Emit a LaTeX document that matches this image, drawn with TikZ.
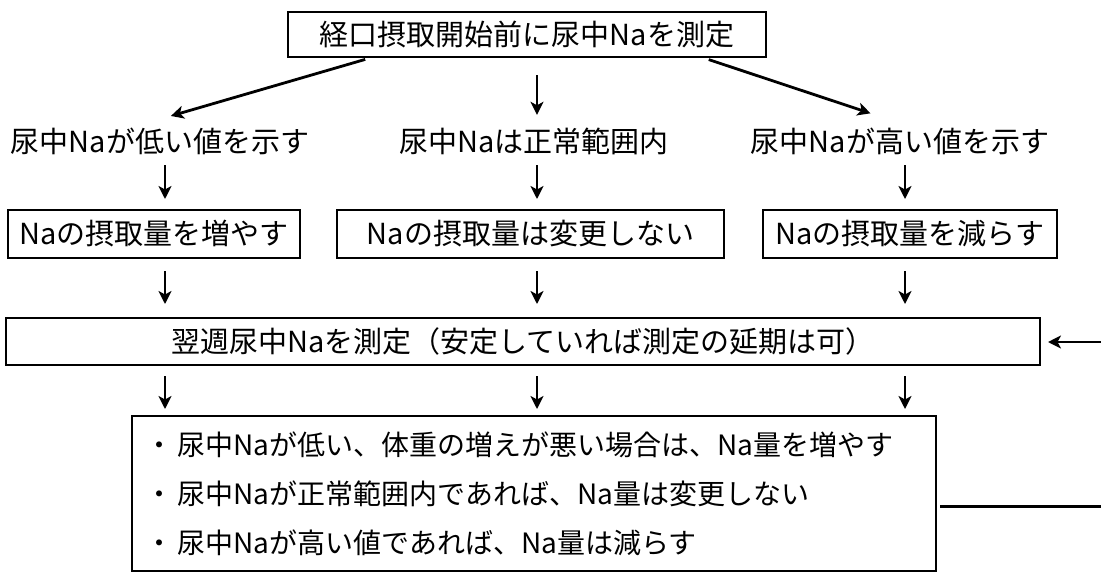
\documentclass[tikz,border=0pt]{standalone}
\usepackage{fontspec}
\setmainfont{Noto Sans CJK JP}
\usetikzlibrary{arrows.meta}
\begin{document}
\begin{tikzpicture}[x=1pt,y=-1pt,
                       box node/.style={draw,line width=2pt,inner sep=0pt,font=\fontsize{29}{34}\selectfont},
                       label node/.style={inner sep=0pt,minimum height=48pt,font=\fontsize{29}{34}\selectfont},
                       arr/.style={line width=2.8pt,-{Stealth[length=13pt,width=13pt,inset=3.5pt]}}
                      ]
  \useasboundingbox (0,0) rectangle (1101,574);
  \coordinate (cL) at (165,0);
  \coordinate (cM) at (537,0);
  \coordinate (cR) at (905,0);
  \coordinate (dLs) at (370,0);
  \coordinate (dLe) at (168,0);
  \coordinate (dRs) at (704,0);
  \coordinate (dRe) at (881,0);
  \coordinate (fbin) at (1101,342);
  \coordinate (fbout) at (1101,506);

  \node[box node,minimum width=478pt,minimum height=45pt] (start) at (527,34.5) {経口摂取開始前に尿中Naを測定};
  \node[label node] (low) at (160,141) {尿中Naが低い値を示す};
  \node[label node] (normal) at (534,141) {尿中Naは正常範囲内};
  \node[label node] (high) at (900,141) {尿中Naが高い値を示す};
  \node[box node,minimum width=292pt,minimum height=48pt] (inc) at (154,234) {Naの摂取量を増やす};
  \node[box node,minimum width=387pt,minimum height=48pt] (keep) at (530.5,234) {Naの摂取量は変更しない};
  \node[box node,minimum width=294pt,minimum height=48pt] (dec) at (910,234) {Naの摂取量を減らす};
  \node[box node,minimum width=1034pt,minimum height=47pt] (measure) at (523,341.5) {翌週尿中Naを測定（安定していれば測定の延期は可）};
  \node[box node,minimum width=804pt,minimum height=155pt,text width=778pt,align=left,
        font=\fontsize{28}{49}\selectfont] (rules) at (534,493.5)
       {・\,尿中Naが低い、体重の増えが悪い場合は、Na量を増やす\\
        ・\,尿中Naが正常範囲内であれば、Na量は変更しない\\
        ・\,尿中Naが高い値であれば、Na量は減らす};

  \path[arr]%
   (start.south -| dLs) edge [shorten <=5pt,shorten >=3pt] (low.north -| dLe)
   (start.south -| cM) edge [shorten <=17pt,shorten >=2pt] (normal.north -| cM)
   (start.south -| dRs) edge [shorten <=5pt,shorten >=11pt] (high.north -| dRe)
   (low.south -| cL) edge [shorten >=10pt] (inc.north -| cL)
   (normal.south -| cM) edge [shorten >=10pt] (keep.north -| cM)
   (high.south -| cR) edge [shorten >=10pt] (dec.north -| cR)
   (inc.south -| cL) edge [shorten <=12pt,shorten >=13pt] (measure.north -| cL)
   (keep.south -| cM) edge [shorten <=12pt,shorten >=13pt] (measure.north -| cM)
   (dec.south -| cR) edge [shorten <=12pt,shorten >=13pt] (measure.north -| cR)
   (measure.south -| cL) edge [shorten <=10pt,shorten >=6pt] (rules.north -| cL)
   (measure.south -| cM) edge [shorten <=10pt,shorten >=6pt] (rules.north -| cM)
   (measure.south -| cR) edge [shorten <=10pt,shorten >=6pt] (rules.north -| cR)
   (fbin) edge [shorten >=7pt] (measure.east |- fbin);
  \draw[line width=3pt] ([xshift=3pt]rules.east |- fbout) -- (fbout);
 \end{tikzpicture}
\end{document}
